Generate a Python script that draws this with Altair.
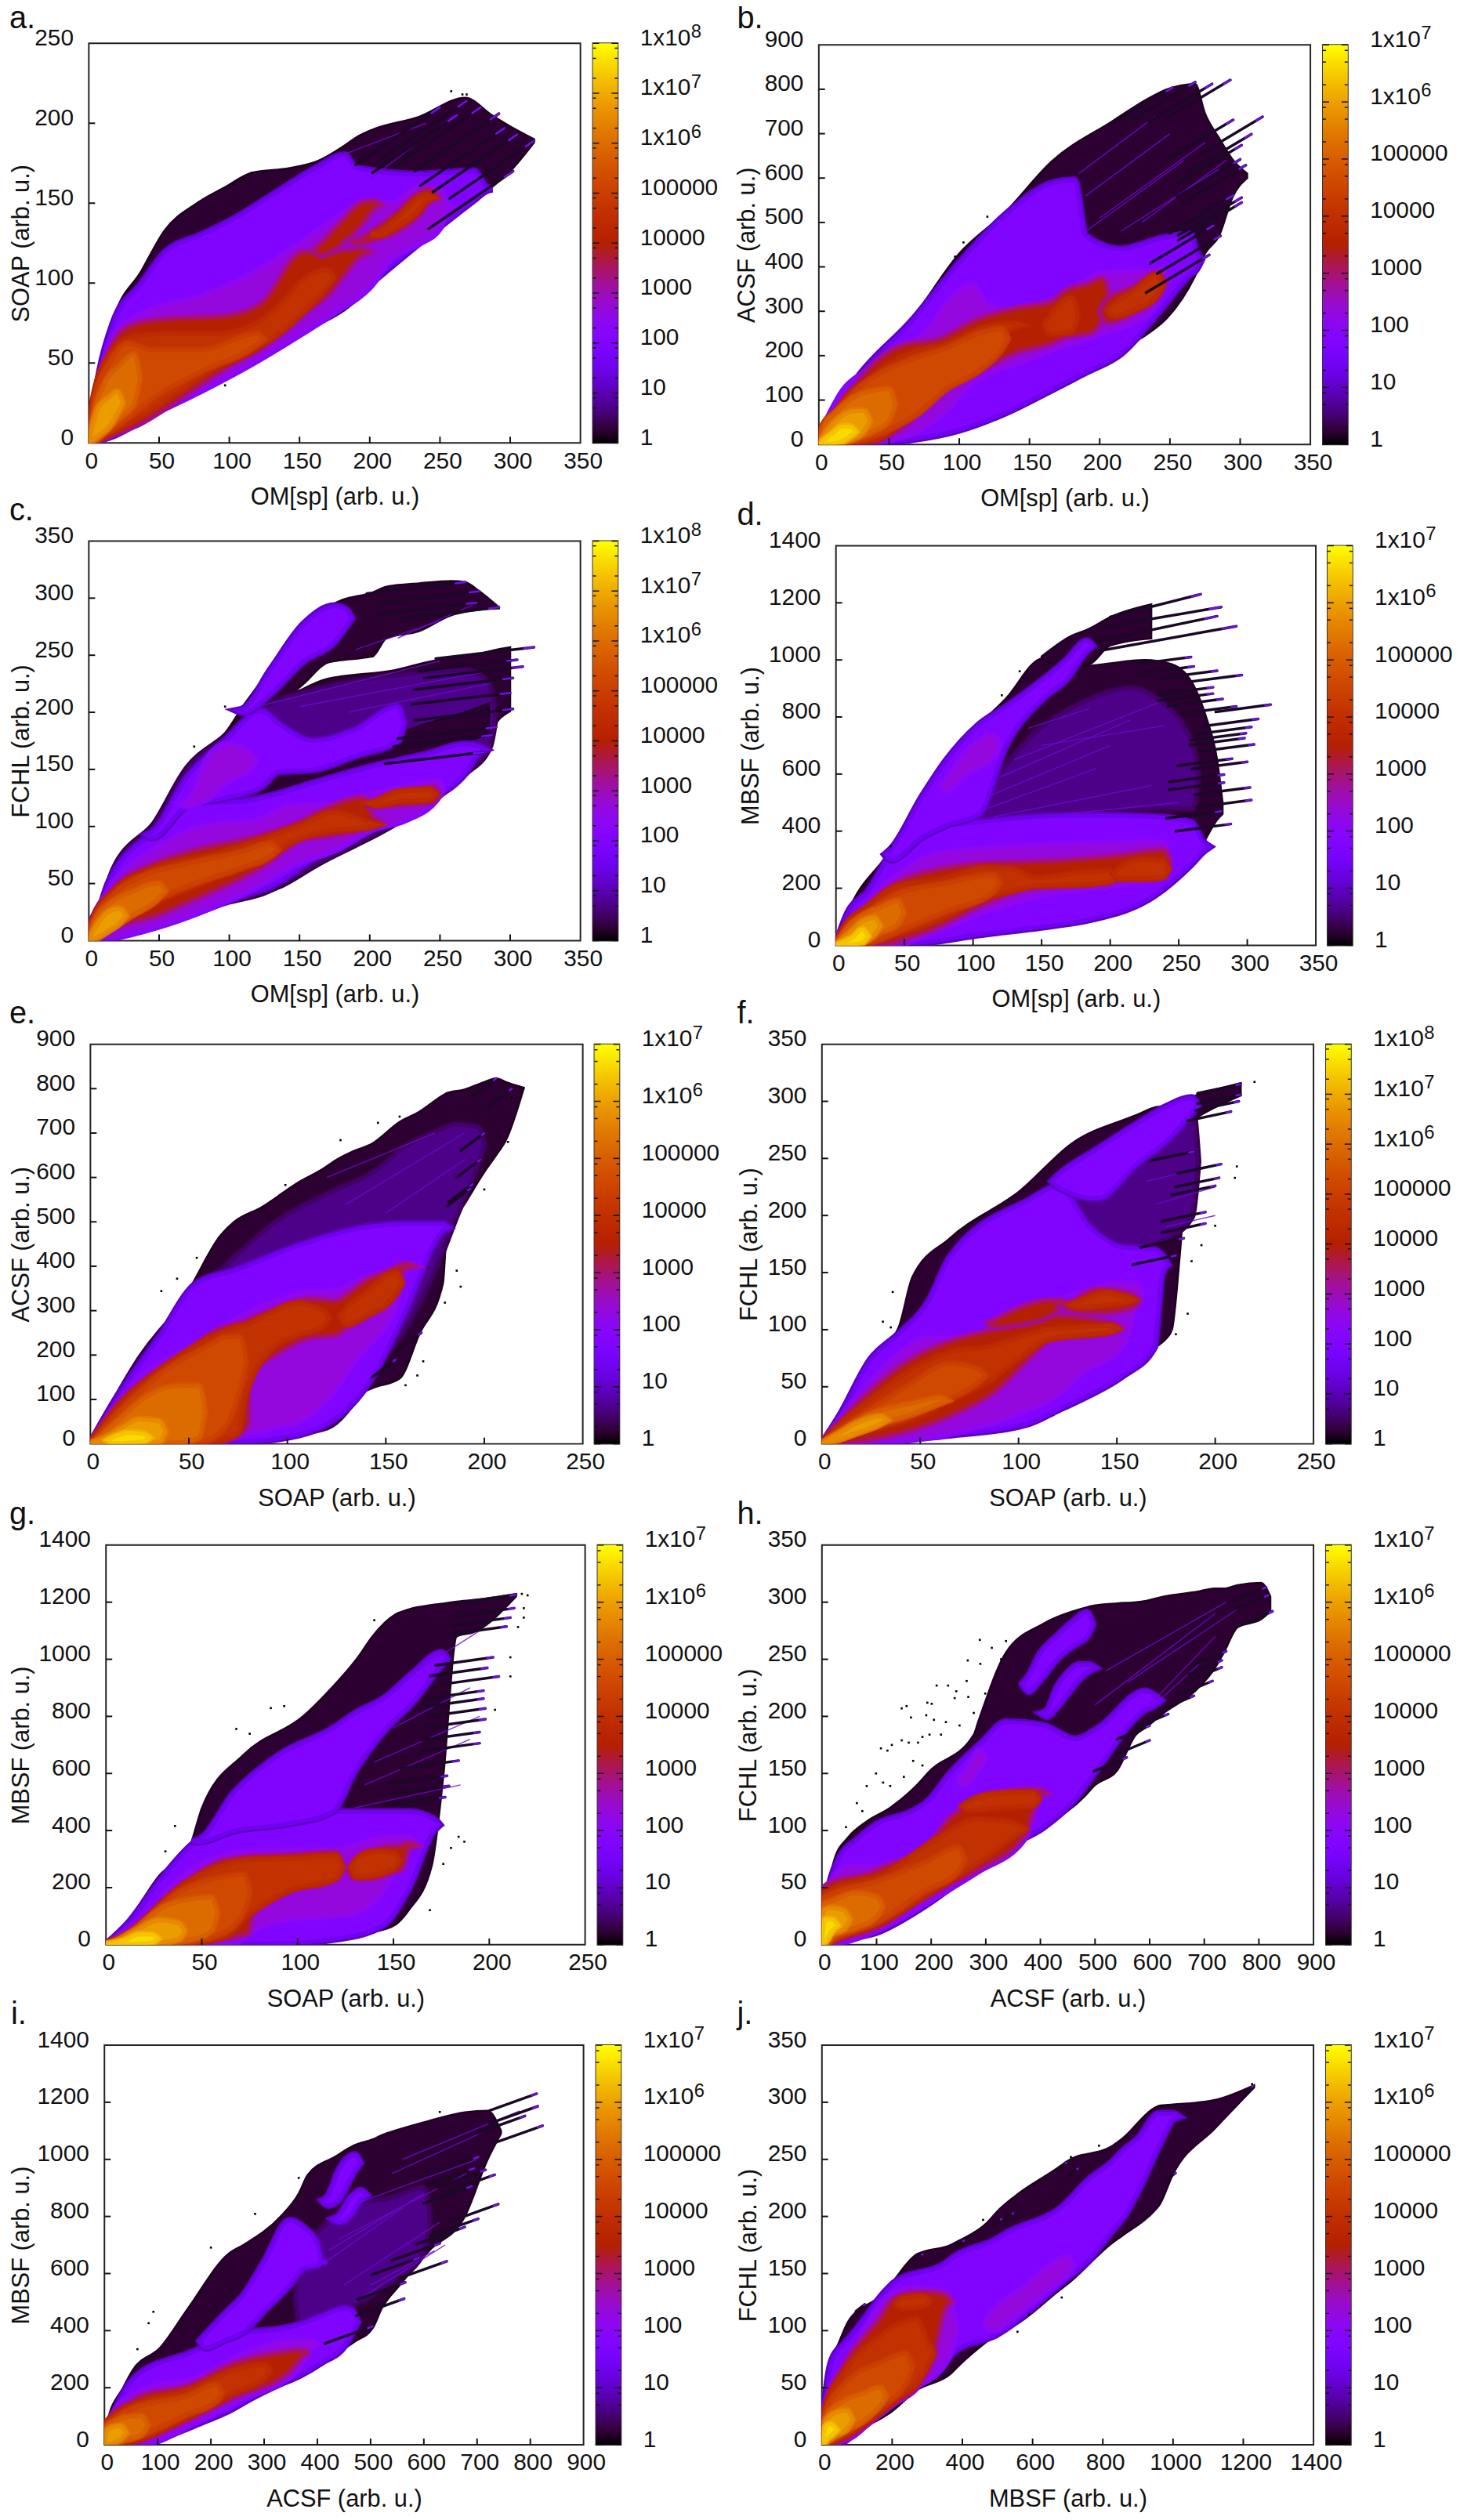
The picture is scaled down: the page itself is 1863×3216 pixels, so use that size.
import math
import altair as alt
import pandas as pd

FONT = "Liberation Sans"
TICK_FS = 30
TITLE_FS = 31
LETTER_FS = 40

LEVELS = {"K": 0.03, "I": 0.09, "V": 0.25, "P": 0.33, "R": 0.5, "O1": 0.58,
          "O2": 0.66, "O3": 0.75, "G": 0.85, "Y": 0.95}
PREVIOUS = {"K": "K", "I": "K", "V": "I", "P": "V", "R": "P", "O1": "R",
            "O2": "O1", "O3": "O2", "G": "O3", "Y": "G"}


def gnuplot_colour(t):
    r, g, b = math.sqrt(t), t ** 3, max(0.0, math.sin(2 * math.pi * t))
    return "#%02x%02x%02x" % (round(r * 255), round(g * 255), round(b * 255))


PAL_POS = [i / 32 for i in range(33)]
PALETTE = [gnuplot_colour(t) for t in PAL_POS]

# ---------------------------------------------------------------- panel a
A_REGIONS = [
 ("K", [(0,0,0),(5,1,30),(10,3,53),(18,5,79),(37,14,107),(54,25,133),(77,36,150),(97,43,160),(116,51,169),(143,64,172),(162,73,176),(182,83,186),(192,90,192),(202,99,196),(235,125,204),(268,148,216),(287,160,205),(300,170,198),(317,188,190)]),
 ("V", [(0,0,0),(8,2,45),(18,5,76),(37,14,99),(54,24,119),(80,35,130),(103,45,140),(136,63,158),(162,75,172),(182,86,180),(190,92,172),(235,125,168),(274,152,170),(283,158,160)]),
 ("P", [(0,0,0),(10,3,48),(20,7,70),(40,16,82),(80,33,92),(120,52,108),(150,68,125),(175,82,140),(200,98,152),(215,115,150),(235,125,160),(250,135,160),(255,145,150)]),
 ("R", [(1,0,8),(10,3,42),(21,7,67),(37,13,75),(54,22,77),(97,47,79),(123,60,87),(153,82,119),(169,92,119),(195,118,121)]),
 ("R", [(165,118,124),(180,125,138),(195,138,150),(203,147,151)]),
 ("R", [(192,125,127),(205,128,134),(220,133,144),(235,143,156),(243,152,158)]),
 ("O1", [(3,1,25),(15,6,55),(30,13,66),(54,26,68),(90,47,68),(120,60,75),(140,72,90),(150,80,100),(170,98,108)]),
 ("O1", [(205,130,131),(220,136,141),(235,146,153),(240,152,155)]),
 ("O2", [(4,2,25),(15,8,50),(28,16,62),(45,28,58),(80,45,58),(120,62,68)]),
 ("O3", [(5,2,22),(12,8,38),(22,16,48),(32,25,55)]),
 ("G", [(7,5,22),(14,10,28),(20,18,32)]),
]
A_TIPS = [(269,214),(279,210),(292,206),(296,197),(305,193),(317,189),(302,170),(250,210),(262,205)]
A_BACK = (60, 36)
A_DOTS = [(116,169),(124,169),(103,162),(110,165),(97,36),(258,220),(266,218),(269,218)]
A_STREAKS = [(200,165,260,205),(220,175,270,205),(180,180,240,200)]

# ---------------------------------------------------------------- panel b
B_REGIONS = [
 ("K", [(0,0,0),(11,1,80),(28,4,158),(67,12,287),(100,35,430),(133,74,524),(166,128,638),(209,205,728),(235,251,780),(248,285,800),(268,380,812),(275,430,745),(285,470,690),(295,560,640),(305,600,610)]),
 ("V", [(0,0,0),(11,1,72),(28,3,151),(67,12,280),(100,33,409),(133,72,517),(166,124,588),(182,150,595),(190,163,470),(215,205,440),(245,310,465),(265,385,473),(268,392,440)]),
 ("P", [(1,0,20),(18,2,122),(34,4,165),(51,12,208),(77,40,258),(90,72,316),(110,140,359),(120,158,316),(140,180,302),(173,220,337),(202,250,387),(232,287,392),(245,345,395)]),
 ("R", [(1,0,30),(14,1,72),(31,2,151),(61,44,223),(84,115,234),(113,165,280),(140,208,305),(166,230,320),(176,245,345),(192,251,360),(202,287,373)]),
 ("R", [(205,277,323),(225,300,355),(242,337,387)]),
 ("O1", [(2,0,35),(14,1,80),(21,2,110),(34,8,143),(47,22,175),(67,90,208),(87,150,223),(120,215,266),(140,265,273)]),
 ("O1", [(165,250,290),(180,255,330)]),
 ("O1", [(210,290,315),(225,305,345),(240,335,380)]),
 ("O2", [(3,0,40),(14,3,78),(30,12,130),(50,35,170),(70,70,195),(90,125,215),(115,170,250),(130,215,260)]),
 ("O3", [(4,1,40),(12,3,70),(25,12,105),(38,30,120),(50,55,125)]),
 ("G", [(6,1,30),(15,5,60),(25,15,75),(32,30,75)]),
 ("Y", [(10,2,25),(17,8,40),(22,18,40)]),
]
B_TIPS = [(293,821),(280,812),(252,804),(268,816),(295,731),(316,738),(308,699),(301,674),(300,642),(304,629),(295,561),(301,556),(301,545),(281,493),(286,470),(278,427)]
B_BACK = (45, 85)
B_DOTS = [(120,513),(103,455),(97,423)]
B_STREAKS = [(190,480,260,640),(200,510,275,680),(215,480,285,620),(190,560,250,700),(185,610,240,740),(230,500,290,640)]

# ---------------------------------------------------------------- panel c
C_REGIONS = [
 ("K", [(0,0,0),(8,2,31),(18,5,65),(47,13,106),(70,20,154),(97,33,182),(113,37,207),(136,46,212),(169,70,229),(218,101,237),(245,123,245),(268,145,249),(281,165,252),(287,184,254),(300,201,257)]),
 ("K", [(107,196,201),(130,205,240),(143,215,264),(153,225,279),(169,243,290),(176,245,296),(202,249,305),(212,265,310),(235,271,313),(258,285,315),(268,288,314),(278,290,306),(292,291,292)]),
 ("I", [(0,0,0),(10,3,35),(18,6,62),(47,14,102),(70,22,150),(97,34,178),(123,42,203),(169,72,222),(218,103,232),(268,147,237),(285,170,225)]),
 ("K", [(110,120,125),(130,128,142),(160,140,155),(200,155,172),(240,165,190),(268,175,200),(285,180,208)]),
 ("V", [(0,0,0),(8,2,28),(14,5,50),(47,15,96),(70,23,120),(110,40,122),(130,48,127),(160,72,138),(200,98,152),(240,122,163),(268,147,172),(278,165,170)]),
 ("V", [(45,90,95),(70,118,143),(97,125,175),(123,135,201),(135,148,190),(160,150,175),(190,162,185),(220,175,205)]),
 ("V", [(110,200,203),(130,217,238),(153,245,277),(175,262,293),(183,275,290)]),
 ("P", [(1,0,15),(18,3,51),(47,12,81),(84,28,101),(120,48,106),(143,65,118),(179,82,120),(202,98,129),(225,106,135),(248,125,140)]),
 ("P", [(70,118,122),(85,125,160),(100,140,172),(115,150,165)]),
 ("R", [(2,0,15),(18,12,45),(47,22,67),(70,34,77),(123,65,92),(153,90,105),(169,92,115),(195,98,125),(202,101,108)]),
 ("R", [(202,118,120),(225,120,128),(245,122,134)]),
 ("O1", [(2,1,14),(18,14,43),(47,33,63),(90,55,76),(123,70,88),(150,90,100),(175,97,112),(200,100,103)]),
 ("O1", [(205,119,122),(220,122,130),(242,124,132)]),
 ("O2", [(3,1,15),(18,16,40),(40,32,57),(70,48,67),(110,65,78),(130,75,85)]),
 ("O3", [(4,2,15),(15,10,32),(30,22,42),(50,38,50)]),
 ("G", [(6,3,14),(14,9,25),(22,16,28)]),
]
C_TIPS = [(317,257),(305,246),(309,240),(302,230),(300,217),(302,203),(290,187),(287,180),(281,165),(292,292),(278,306),(268,314),(276,296)]
C_BACK = (70, 10)
C_DOTS = [(97,205),(75,170),(202,249)]
C_STREAKS = [(120,205,250,245),(150,205,280,235),(185,200,285,225),(220,265,275,295),(190,255,250,280)]

# ---------------------------------------------------------------- panel d
D_REGIONS = [
 ("K", [(0,0,0),(9,2,119),(36,4,308),(56,8,442),(84,25,665),(124,55,865),(151,69,1005),(175,90,975),(195,110,985),(225,160,1000),(245,255,985),(262,297,900),(270,375,800),(278,440,650),(282,460,500)]),
 ("K", [(150,1000,1012),(170,975,1080),(185,985,1110),(200,1050,1150),(230,1075,1195)]),
 ("I", [(105,440,500),(140,450,720),(180,460,850),(215,470,900),(235,480,860),(260,480,700)]),
 ("V", [(0,0,0),(9,2,115),(23,4,186),(43,6,342),(60,9,400),(104,38,431),(158,70,453),(185,91,455),(232,175,450),(259,285,430),(268,330,360)]),
 ("V", [(40,300,335),(63,380,520),(80,420,643),(104,460,770),(124,700,835),(151,865,930),(168,932,998),(183,1032,1066)]),
 ("P", [(1,0,30),(19,1,130),(40,2,230),(73,52,320),(111,119,342),(151,175,353),(202,208,360),(239,242,364)]),
 ("P", [(80,540,580),(95,600,680),(115,660,740)]),
 ("R", [(1,0,30),(19,1,97),(33,2,180),(50,25,230),(67,52,255),(111,153,286),(141,203,290),(202,230,310),(239,253,331)]),
 ("O1", [(6,1,60),(22,8,130),(45,40,205),(75,90,230),(110,170,270),(130,195,265),(145,210,235),(180,215,255),(200,225,260)]),
 ("O1", [(207,235,270),(225,235,300),(238,240,295)]),
 ("O2", [(8,1,60),(25,12,120),(45,50,180),(80,120,215),(115,190,245)]),
 ("O3", [(10,2,65),(22,15,110),(32,45,130),(45,75,155)]),
 ("G", [(12,3,50),(20,15,85),(28,40,95)]),
 ("Y", [(13,3,30),(19,10,55)]),
]
D_TIPS = [(259,1010),(261,977),(278,962),(296,947),(275,904),(275,882),(282,863),(317,843),(292,837),(308,793),(303,765),(299,743),(298,726),(305,704),(289,654),(300,643),(283,598),(283,570),(302,553),(303,509),(288,425),(281,470)]
D_BACK = (40, 25)
D_FORK = [(200,1150,266,1230),(195,1115,281,1185),(190,1065,278,1153),(190,1030,292,1118)]
D_DOTS = [(134,960),(121,876),(40,347)]
D_STREAKS = [(105,470,190,620),(110,520,200,700),(120,590,215,790),(130,650,235,850),(115,450,230,560),(125,440,250,500),(140,760,185,830),(150,700,240,770)]

# ---------------------------------------------------------------- panel e
E_REGIONS = [
 ("K", [(0,0,0),(12,0,100),(26,1,204),(38,2,268),(50,3,347),(66,3,469),(73,4,500),(87,10,533),(106,25,590),(118,35,619),(125,47,640),(134,104,660),(143,125,676),(157,147,725),(167,247,748),(179,361,785),(181,476,790),(190,540,798),(200,612,815),(206,650,823),(211,684,815),(220,800,802)]),
 ("I", [(0,0,0),(12,0,92),(26,2,195),(50,5,320),(73,8,419),(96,20,505),(120,39,562),(148,190,625),(157,240,660),(174,383,700),(186,519,719),(197,633,712)]),
 ("V", [(0,0,0),(12,0,93),(35,2,240),(54,3,361),(73,4,390),(106,21,447),(143,150,490),(160,300,495),(179,480,495)]),
 ("P", [(0,0,0),(26,0,154),(50,2,218),(66,10,261),(87,30,311),(108,55,340),(125,125,347),(134,183,365),(155,311,395),(162,404,405)]),
 ("R", [(0,0,0),(14,0,89),(45,0,190),(61,1,247),(73,18,268),(80,46,275),(80,161,276),(92,197,296),(111,240,325),(125,247,320),(129,261,330),(141,300,369),(150,333,385),(160,397,404)]),
 ("O1", [(1,0,8),(14,0,80),(40,1,180),(60,5,235),(75,25,262),(78,100,265),(90,205,290),(105,245,315),(118,265,300)]),
 ("O1", [(130,270,305),(140,290,340),(155,340,385)]),
 ("O2", [(2,0,8),(15,0,72),(40,1,170),(58,8,215),(70,50,240),(76,130,240)]),
 ("O3", [(3,0,8),(15,1,55),(30,2,110),(45,4,130),(55,15,130)]),
 ("G", [(6,0,10),(15,1,32),(25,2,55),(35,5,50)]),
 ("Y", [(12,1,15),(20,3,25),(27,6,22)]),
]
E_TIPS = [(206,823),(214,800),(200,700),(198,640),(194,585),(193,575),(168,250),(155,190)]
E_BACK = (12, 40)
E_DOTS = [(36,344),(212,680),(188,354),(180,318),(169,186),(166,154),(160,132),(44,372),(54,419),(78,505),(99,583),(127,684),(146,723),(157,737),(200,573),(186,390),(220,802),(214,780),(208,690)]
E_STREAKS = [(130,540,190,700),(150,520,190,640),(120,600,175,700)]

# ---------------------------------------------------------------- panel f
F_REGIONS = [
 ("K", [(0,0,0),(9,1,26),(23,2,71),(39,3,102),(46,6,146),(65,10,180),(101,20,222),(127,33,263),(160,70,288),(170,85,295),(175,92,296),(178,100,297),(182,165,298),(186,250,302),(190,265,305)]),
 ("K", [(170,258,292),(190,285,305),(213,305,316)]),
 ("I", [(120,100,230),(140,150,250),(160,170,270),(175,180,280),(188,200,295)]),
 ("V", [(0,0,0),(9,1,24),(25,2,74),(39,4,96),(54,6,124),(65,8,163),(105,18,213),(120,30,225),(136,43,190),(153,60,172),(169,85,170),(173,149,165)]),
 ("V", [(120,225,235),(140,215,258),(160,245,280),(175,265,295),(188,290,303)]),
 ("P", [(0,0,0),(9,1,21),(39,3,79),(54,6,93),(75,13,93),(98,25,110),(122,45,127),(131,60,133),(153,85,141),(160,121,141)]),
 ("R", [(1,0,3),(23,4,43),(46,13,74),(65,25,89),(89,48,100),(105,75,107),(117,93,112),(148,98,105)]),
 ("R", [(88,103,108),(100,105,118),(115,112,125),(122,120,125)]),
 ("R", [(126,118,122),(140,115,135),(158,120,130)]),
 ("O1", [(3,1,6),(23,12,36),(46,22,65),(65,38,80),(85,55,85),(100,75,93),(115,92,100),(147,99,103)]),
 ("O1", [(130,120,124),(145,122,132),(155,124,128)]),
 ("O2", [(5,2,7),(25,14,30),(45,25,52),(65,40,70),(80,55,65)]),
 ("O3", [(7,3,8),(25,16,26),(45,26,35),(60,36,40)]),
 ("G", [(8,4,8),(18,10,18),(30,18,24)]),
]
F_TIPS = [(189,256),(203,245),(202,233),(200,226),(195,203),(195,193),(184,180),(180,165),(213,315),(213,306),(212,300),(208,291)]
F_BACK = (22, 8)
F_DOTS = [(36,133),(31,107),(35,102),(220,317),(211,243),(210,233),(200,191),(193,174),(188,160),(186,114),(180,96)]
F_STREAKS = [(175,190,200,200),(170,210,200,225),(165,230,190,240)]

# ---------------------------------------------------------------- panel g
G_REGIONS = [
 ("K", [(0,0,0),(12,1,88),(28,2,244),(43,3,333),(50,4,478),(72,6,667),(103,10,801),(115,21,880),(132,30,1012),(139,43,1080),(151,70,1157),(158,121,1175),(170,277,1190),(176,589,1195),(183,1080,1202),(192,1095,1208),(214,1220,1229)]),
 ("V", [(0,0,0),(12,1,77),(28,2,222),(48,3,366),(67,4,420),(91,5,440),(120,21,465),(144,66,465),(158,199,465),(171,400,440)]),
 ("V", [(48,360,366),(67,400,533),(91,420,667),(118,465,756),(130,611,810),(146,756,867),(160,850,950),(175,980,1023)]),
 ("P", [(0,0,0),(14,1,66),(43,3,255),(67,10,322),(77,50,328),(96,88,333),(120,100,333),(130,110,350),(146,199,378),(158,355,378)]),
 ("R", [(1,0,5),(12,1,43),(26,4,130),(43,8,222),(62,25,295),(74,43,305),(77,144,308),(91,188,311),(120,233,322)]),
 ("R", [(130,233,280),(139,233,325),(146,250,340),(154,266,345),(158,340,355)]),
 ("O1", [(1,0,5),(12,1,40),(40,6,205),(62,30,280),(75,110,295),(95,190,300),(120,235,310)]),
 ("O1", [(131,240,300),(140,245,325),(150,270,320)]),
 ("O2", [(3,0,8),(12,2,40),(40,10,190),(60,40,235),(72,120,245)]),
 ("O3", [(5,0,10),(14,3,45),(30,8,130),(45,20,160),(55,50,165)]),
 ("G", [(7,1,15),(15,3,45),(28,8,85),(38,20,75)]),
 ("Y", [(10,2,15),(17,4,35),(24,8,35)]),
]
G_TIPS = [(214,1226),(213,1179),(211,1146),(209,1115),(202,1007),(199,970),(205,940),(197,890),(197,862),(198,828),(198,790),(195,745),(195,706),(184,645),(178,592),(179,556),(177,517)]
G_BACK = (30, 28)
G_DOTS = [(68,756),(75,739),(86,829),(93,836),(140,1137),(217,1229),(220,1224),(218,1179),(218,1146),(215,1113),(211,1007),(211,940),(203,823),(187,361),(180,339),(176,283),(169,121),(184,378),(31,327),(36,416)]
G_STREAKS = [(130,480,185,560),(135,560,190,720),(140,640,195,800),(150,760,190,900),(160,950,195,1100)]

# ---------------------------------------------------------------- panel h
H_REGIONS = [
 ("K", [(0,0,0),(6,0,28),(23,2,75),(48,4,94),(82,11,108),(125,22,120),(184,36,145),(193,40,150),(278,64,184),(286,67,195),(337,85,256),(405,103,281),(481,130,295),(498,139,297),(541,153,299),(575,184,300),(592,190,301),(626,203,305),(685,223,309),(719,242,312),(736,256,312),(761,278,315),(804,285,317),(821,292,305)]),
 ("V", [(0,0,0),(6,0,28),(31,3,75),(65,7,92),(99,11,105),(167,28,117),(193,36,125),(235,50,150),(295,69,178),(337,85,195),(405,103,192),(464,128,180),(507,156,190),(592,206,222),(610,210,218)]),
 ("V", [(378,222,235),(400,232,255),(430,250,270),(460,262,283),(485,270,291)]),
 ("V", [(412,200,205),(430,208,225),(450,220,238),(470,232,245),(490,240,245)]),
 ("P", [(0,0,30),(6,0,42),(48,4,69),(108,15,69),(184,35,82),(201,40,89),(269,60,117),(286,65,125),(371,94,136),(396,125,136)]),
 ("P", [(260,140,150),(290,155,170)]),
 ("R", [(0,0,40),(6,0,50),(23,4,55),(82,12,61),(116,19,68),(167,36,78),(210,47,95),(227,52,106),(286,67,125),(371,97,135),(396,131,135)]),
 ("O1", [(1,0,45),(23,5,50),(116,22,62),(210,50,92),(286,72,110),(360,98,105)]),
 ("O1", [(270,118,125),(320,120,132),(385,122,133)]),
 ("O2", [(2,0,40),(23,6,45),(100,20,55),(190,48,72),(250,65,85)]),
 ("O3", [(3,0,35),(20,8,38),(60,15,45),(100,25,42)]),
 ("G", [(4,1,30),(18,10,32),(40,14,30)]),
 ("Y", [(6,3,22),(18,12,22)]),
]
H_TIPS = [(825,292),(817,306),(813,313),(740,257),(732,249),(732,243),(715,231),(681,218),(634,202),(600,192),(600,179),(558,164)]
H_BACK = (60, 12)
H_DOTS = [(146,207),(155,209),(193,212),(201,211),(163,199),(191,201),(205,197),(210,227),(231,227),(243,216),(268,217),(246,222),(265,231),(290,246),(267,249),(289,267),(311,260),(108,172),(120,170),(128,175),(146,179),(159,177),(176,177),(184,182),(197,184),(218,184),(82,139),(99,150),(112,142),(125,139),(150,147),(167,161),(184,157),(64,124),(74,117),(44,103),(227,195),(252,192),(278,203),(299,220),(328,250),(337,266)]
H_STREAKS = [(500,210,720,290),(520,240,740,300),(560,230,780,300),(600,210,720,270),(620,215,700,250)]

# ---------------------------------------------------------------- panel i
I_REGIONS = [
 ("K", [(0,0,0),(5,1,78),(36,2,203),(53,3,261),(105,23,341),(157,66,478),(235,125,672),(261,146,700),(330,210,798),(365,249,880),(382,260,946),(434,318,1010),(469,360,1049),(504,409,1070),(521,478,1085),(555,560,1106),(610,680,1135),(677,800,1165),(720,1000,1170),(745,1090,1100)]),
 ("I", [(370,400,640),(420,440,780),(470,490,850),(530,560,860),(600,680,900)]),
 ("V", [(0,0,0),(10,1,66),(36,2,181),(62,3,243),(157,61,318),(192,88,345),(230,118,370),(278,168,395),(330,215,405),(365,243,420),(408,290,450),(452,350,478),(465,390,470)]),
 ("V", [(190,340,386),(230,370,465),(261,395,523),(300,470,640),(348,560,786),(375,620,760),(400,630,700),(408,640,640)]),
 ("V", [(420,840,870),(440,860,960),(470,960,1015)]),
 ("V", [(440,780,800),(460,800,860),(482,860,890)]),
 ("P", [(0,0,40),(18,1,112),(70,3,192),(174,83,238),(261,163,318),(348,240,363),(365,266,363),(391,340,363)]),
 ("R", [(1,0,50),(10,0,89),(53,9,150),(70,20,169),(157,89,203),(244,169,283),(348,261,325),(365,300,329),(374,318,325)]),
 ("O1", [(2,0,70),(15,3,95),(70,25,150),(157,100,190),(244,185,260),(300,235,280)]),
 ("O2", [(3,0,65),(15,4,85),(60,28,130),(157,110,170),(210,155,210)]),
 ("O3", [(4,0,60),(15,6,75),(40,20,95),(70,38,100)]),
 ("G", [(5,1,50),(15,8,60),(30,20,65)]),
]
I_TIPS = [(812,1230),(814,1186),(790,1152),(823,1118),(703,1009),(716,963),(733,946),(695,969),(690,906),(740,843),(702,792),(677,763),(630,706),(591,655),(643,643),(565,569),(563,512),(504,415)]
I_BACK = (90, 60)
I_DOTS = [(92,466),(83,426),(62,335),(200,691),(283,809),(365,935),(630,1166)]
I_STREAKS = [(400,620,560,830),(420,680,600,880),(450,560,630,780),(470,500,640,700),(440,720,680,950),(480,850,700,1000),(500,560,620,680),(560,1000,780,1170),(540,950,740,1120)]

# ---------------------------------------------------------------- panel j
J_REGIONS = [
 ("K", [(0,0,0),(9,0,45),(22,1,68),(49,2,90),(75,8,108),(168,23,131),(194,28,140),(271,48,167),(366,62,175),(392,70,179),(472,91,195),(498,97,204),(551,105,218),(683,137,245),(696,140,248),(828,177,262),(855,183,268),(947,205,295),(961,210,297),(1000,237,298),(1119,277,302),(1231,313,315)]),
 ("V", [(0,0,0),(16,1,54),(29,2,74),(62,3,88),(88,10,97),(181,33,134),(207,38,142),(353,75,159),(379,82,165),(498,97,180),(524,102,185),(683,142,208),(760,162,232),(828,188,248),(860,200,258),(900,222,268),(960,262,290),(1000,285,290)]),
 ("P", [(1,0,25),(16,1,42),(75,6,74),(194,38,131),(260,50,138),(353,73,134),(370,85,120)]),
 ("P", [(480,100,115),(560,115,135),(640,135,155),(700,150,165)]),
 ("R", [(1,0,20),(9,0,31),(62,5,68),(168,28,111),(207,37,128),(277,54,133),(313,75,133),(350,120,131)]),
 ("O1", [(2,0,18),(10,1,30),(62,8,62),(168,30,95),(215,42,105),(270,55,110),(300,70,90)]),
 ("O1", [(230,120,128),(290,122,130)]),
 ("O2", [(3,0,15),(12,2,28),(62,10,52),(168,34,72),(240,55,80)]),
 ("O3", [(4,0,14),(15,3,25),(62,12,38),(120,22,45),(165,35,50)]),
 ("G", [(5,1,12),(15,4,22),(40,9,28),(70,14,30)]),
 ("Y", [(6,2,10),(15,6,17),(25,8,18)]),
]
J_TIPS = [(287,167),(405,179),(512,198),(545,203),(696,247),(729,242),(1007,238),(1227,314),(122,123)]
J_BACK = (25, 6)
J_DOTS = [(1225,316),(557,99),(590,114),(683,129),(604,227),(709,252),(789,262),(967,297),(459,197)]

PANELS = [
 dict(letter="a.", xl="OM[sp] (arb. u.)", yl="SOAP (arb. u.)", xmax=350, xstep=50, ymax=250, ystep=50, dec=8, reg=A_REGIONS, tips=A_TIPS, back=A_BACK, dots=A_DOTS, streaks=A_STREAKS, tx=-86),
 dict(letter="b.", xl="OM[sp] (arb. u.)", yl="ACSF (arb. u.)", xmax=350, xstep=50, ymax=900, ystep=100, dec=7, reg=B_REGIONS, tips=B_TIPS, back=B_BACK, dots=B_DOTS, streaks=B_STREAKS, tx=-92),
 dict(letter="c.", xl="OM[sp] (arb. u.)", yl="FCHL (arb. u.)", xmax=350, xstep=50, ymax=350, ystep=50, dec=8, reg=C_REGIONS, tips=C_TIPS, back=C_BACK, dots=C_DOTS, streaks=C_STREAKS, tx=-86),
 dict(letter="d.", xl="OM[sp] (arb. u.)", yl="MBSF (arb. u.)", xmax=350, xstep=50, ymax=1400, ystep=200, dec=7, reg=D_REGIONS, tips=D_TIPS, back=D_BACK, dots=D_DOTS, streaks=D_STREAKS, tx=-109, fork=D_FORK),
 dict(letter="e.", xl="SOAP (arb. u.)", yl="ACSF (arb. u.)", xmax=250, xstep=50, ymax=900, ystep=100, dec=7, reg=E_REGIONS, tips=E_TIPS, back=E_BACK, dots=E_DOTS, streaks=E_STREAKS, tx=-88),
 dict(letter="f.", xl="SOAP (arb. u.)", yl="FCHL (arb. u.)", xmax=250, xstep=50, ymax=350, ystep=50, dec=8, reg=F_REGIONS, tips=F_TIPS, back=F_BACK, dots=F_DOTS, streaks=F_STREAKS, tx=-93),
 dict(letter="g.", xl="SOAP (arb. u.)", yl="MBSF (arb. u.)", xmax=250, xstep=50, ymax=1400, ystep=200, dec=7, reg=G_REGIONS, tips=G_TIPS, back=G_BACK, dots=G_DOTS, streaks=G_STREAKS, tx=-108),
 dict(letter="h.", xl="ACSF (arb. u.)", yl="FCHL (arb. u.)", xmax=900, xstep=100, ymax=350, ystep=50, dec=7, reg=H_REGIONS, tips=H_TIPS, back=H_BACK, dots=H_DOTS, streaks=H_STREAKS, tx=-94),
 dict(letter="i.", xl="ACSF (arb. u.)", yl="MBSF (arb. u.)", xmax=900, xstep=100, ymax=1400, ystep=200, dec=7, reg=I_REGIONS, tips=I_TIPS, back=I_BACK, dots=I_DOTS, streaks=I_STREAKS, tx=-106),
 dict(letter="j.", xl="MBSF (arb. u.)", yl="FCHL (arb. u.)", xmax=1400, xstep=200, ymax=350, ystep=50, dec=7, reg=J_REGIONS, tips=J_TIPS, back=J_BACK, dots=J_DOTS, streaks=[], tx=-94),
]

# page layout, in pixels, of each row
ROW_TOP = [57, 691, 1332, 1970, 2607]
ROW_DRIFT = 5
ROW_RIGHT_SHIFT = [2, 6, 0, 0, 0]
ROW_LEFT_X = [110, 110, 112, 132, 130]
ROW_LEFT_W = [631, 631, 632, 615, 615]
ROW_LEFT_CB = [757, 757, 759, 763, 761]
ROW_RIGHT_X = [1047, 1069, 1051, 1051, 1051]
ROW_RIGHT_W = [631, 616, 631, 631, 631]
ROW_RIGHT_CB = [1694, 1700, 1698, 1698, 1698]
PANEL_H = 513
CB_W = 32
MARGIN = 8
TOP_OVERHANG = 15

COLOR_SCALE = alt.Scale(domain=PAL_POS, range=PALETTE, clamp=True)


def tapered(lvl, pts, xmax):
    """Contours close in a point: the density falls away at each end of a region."""
    if lvl == "K":
        return pts
    d = xmax * 0.012
    out = list(pts)
    x0, lo0, hi0 = out[0]
    if x0 > 15 * xmax / 350:
        m = (lo0 + hi0) / 2
        out.insert(0, (x0 - d, m, m))
    elif x0 > 1:
        out.insert(0, (0, 0, 0))
    x1, lo1, hi1 = out[-1]
    m = (lo1 + hi1) / 2
    out.append((x1 + d, m, m))
    return out


def panel(p, w):
    h = PANEL_H
    rows = []
    rid = 0
    for lvl, pts in p["reg"]:
        c = LEVELS[lvl]
        prev = LEVELS[PREVIOUS[lvl]]
        bands = [(0.0, 2.5)] if lvl == "K" else [(0.7 * prev + 0.3 * c, 10), (0.35 * prev + 0.65 * c, 5)]
        for hc, sw in bands:
            for (x, lo, hi) in tapered(lvl, pts, p["xmax"]):
                rows.append(dict(x=x, lo=lo, hi=hi, c=c, hc=hc, sw=sw, rid=rid))
            rid += 1
    df = pd.DataFrame(rows)
    xs = alt.Scale(domain=[0, p["xmax"]], nice=False, zero=False)
    ys = alt.Scale(domain=[0, p["ymax"]], nice=False, zero=False)
    xvals = list(range(0, p["xmax"] + 1, p["xstep"]))
    yvals = list(range(0, p["ymax"] + 1, p["ystep"]))
    xaxis = alt.Axis(values=xvals, format="d", grid=False, ticks=False, domain=False, labelFont=FONT, labelFontSize=TICK_FS,
                     labelColor="#111", labelPadding=8, labelOffset=3, labelFlush=False, labelOverlap=False,
                     title=p["xl"], titleFont=FONT, titleFontSize=TITLE_FS, titleFontWeight="normal", titleColor="#111",
                     titleX=w / 2, titleY=70, titleBaseline="middle", titleAlign="center")
    yaxis = alt.Axis(values=yvals, format="d", grid=False, ticks=False, domain=False, labelFont=FONT, labelFontSize=TICK_FS,
                     labelColor="#111", labelPadding=20, labelOffset=-7, labelFlush=False, labelOverlap=False,
                     title=p["yl"], titleFont=FONT, titleFontSize=TITLE_FS, titleFontWeight="normal", titleColor="#111",
                     titleX=p["tx"], titleY=h / 2, titleAngle=-90, titleBaseline="middle", titleAlign="center")
    X = alt.X("x:Q", scale=xs, axis=xaxis)
    Y = alt.Y("lo:Q", scale=ys, axis=yaxis)
    area = alt.Chart(df).mark_area(interpolate="monotone", clip=True).encode(
        x=X, y=Y, y2=alt.Y2("hi:Q"),
        color=alt.Color("c:Q", scale=COLOR_SCALE, legend=None),
        stroke=alt.Stroke("hc:Q", scale=COLOR_SCALE, legend=None),
        strokeWidth=alt.StrokeWidth("sw:Q", scale=None),
        detail="rid:N")

    layers = [area]
    if p["streaks"]:
        sdf = pd.DataFrame(p["streaks"], columns=["x0", "y0", "x1", "y1"])
        layers.append(alt.Chart(sdf).mark_rule(color="#6a0ad0", strokeWidth=1.4, opacity=0.85).encode(
            x=alt.X("x0:Q", scale=xs), x2="x1:Q", y=alt.Y("y0:Q", scale=ys), y2="y1:Q"))

    bx, by = p["back"]
    rays = [(tx - bx, ty - by, tx, ty) for tx, ty in p["tips"]] + list(p.get("fork", []))
    rdf = pd.DataFrame(rays, columns=["x0", "y0", "x1", "y1"])
    rdf["xt"] = rdf.x1 - 0.1 * (rdf.x1 - rdf.x0)
    rdf["yt"] = rdf.y1 - 0.1 * (rdf.y1 - rdf.y0)
    layers.append(alt.Chart(rdf).mark_rule(color="#1a0826", strokeWidth=3.5, strokeCap="round").encode(
        x=alt.X("x0:Q", scale=xs), x2="x1:Q", y=alt.Y("y0:Q", scale=ys), y2="y1:Q"))
    layers.append(alt.Chart(rdf).mark_rule(color="#7310f0", strokeWidth=2.5, strokeCap="round").encode(
        x=alt.X("xt:Q", scale=xs), x2="x1:Q", y=alt.Y("yt:Q", scale=ys), y2="y1:Q"))

    layers.append(alt.Chart(pd.DataFrame(p["dots"], columns=["x", "y"])).mark_square(size=7, color="#000", opacity=1).encode(
        x=alt.X("x:Q", scale=xs), y=alt.Y("y:Q", scale=ys)))

    xt = pd.DataFrame({"v": xvals[1:-1]})
    yt = pd.DataFrame({"v": yvals[1:-1]})
    layers.append(alt.Chart(xt).mark_rule(color="#111", strokeWidth=2).encode(
        x=alt.X("v:Q", scale=xs), y=alt.value(h), y2=alt.value(h - 8)))
    layers.append(alt.Chart(yt).mark_rule(color="#111", strokeWidth=2).encode(
        y=alt.Y("v:Q", scale=ys), x=alt.value(0), x2=alt.value(8)))

    return alt.layer(*layers).properties(
        width=w, height=h,
        title=alt.TitleParams(text=p["letter"], anchor="start", frame="group", dx=p["ldx"], dy=p["ldy"], offset=0,
                              font=FONT, fontSize=LETTER_FS, fontWeight="normal", color="#111"),
        view=alt.ViewBackground(stroke="#222", strokeWidth=2))


def colorbar(dec):
    h = PANEL_H
    top = 10 ** dec
    ys = alt.Scale(type="log", domain=[1, top], nice=False)
    stops = [alt.GradientStop(offset=o, color=c) for o, c in zip(PAL_POS, PALETTE)]
    grad = alt.LinearGradient(gradient="linear", stops=stops, x1=0, x2=0, y1=1, y2=0)
    base = pd.DataFrame({"a": [0]})
    rect = alt.Chart(base).mark_rect(fill=grad).encode(
        x=alt.value(0), x2=alt.value(CB_W), y=alt.value(0), y2=alt.value(h))
    majors = [10 ** k for k in range(dec + 1)]
    minors = [m * 10 ** k for k in range(dec) for m in (2, 5, 8)]
    axis = alt.Axis(orient="right", values=majors, grid=False, ticks=False, domain=False, title=None,
                    labelFont=FONT, labelFontSize=TICK_FS, labelColor="#111", labelPadding=28, labelOffset=-7,
                    labelFlush=False, labelOverlap=False, labelAlign="left",
                    labelExpr="datum.value >= 1000000 ? '1x10' : format(datum.value, 'd')")
    mj = pd.DataFrame({"v": majors})
    mn = pd.DataFrame({"v": minors})
    layers = [rect]
    layers.append(alt.Chart(mj).mark_rule(color="#111", strokeWidth=1.5).encode(
        y=alt.Y("v:Q", scale=ys, axis=axis), x=alt.value(0), x2=alt.value(8)))
    layers.append(alt.Chart(mj).mark_rule(color="#111", strokeWidth=1.5).encode(
        y=alt.Y("v:Q", scale=ys), x=alt.value(CB_W - 8), x2=alt.value(CB_W)))
    layers.append(alt.Chart(mn).mark_rule(color="#111", strokeWidth=1.5).encode(
        y=alt.Y("v:Q", scale=ys), x=alt.value(0), x2=alt.value(4)))
    layers.append(alt.Chart(mn).mark_rule(color="#111", strokeWidth=1.5).encode(
        y=alt.Y("v:Q", scale=ys), x=alt.value(CB_W - 4), x2=alt.value(CB_W)))
    ex = pd.DataFrame({"v": [m for m in majors if m >= 1000000]})
    ex["e"] = [str(round(math.log10(v))) for v in ex.v]
    layers.append(alt.Chart(ex).mark_text(font=FONT, fontSize=24, align="left", baseline="middle", dy=-14, color="#111").encode(
        y=alt.Y("v:Q", scale=ys), x=alt.value(CB_W + 94), text="e:N"))
    return alt.layer(*layers).resolve_scale(y="shared").properties(
        width=CB_W, height=h, view=alt.ViewBackground(stroke="#333", strokeWidth=2))


def spacer(w, h):
    return alt.Chart(pd.DataFrame({"a": [0]})).mark_point(opacity=0).encode(
        x=alt.value(0), y=alt.value(0)).properties(width=max(w, 1), height=max(h, 1))


def row(r):
    lp, rp = PANELS[2 * r], PANELS[2 * r + 1]
    lx, lw, lc = ROW_LEFT_X[r], ROW_LEFT_W[r], ROW_LEFT_CB[r]
    rx, rw, rc = ROW_RIGHT_X[r], ROW_RIGHT_W[r], ROW_RIGHT_CB[r]
    lp["ldx"] = 8 - lx + (2 if r == 4 else 0)
    rp["ldx"] = 942 - rx
    lp["ldy"] = 11 if r == 0 else 3
    rp["ldy"] = 9 if r == 0 else 3
    shift = ROW_RIGHT_SHIFT[r]
    items = [(lx, lw, panel(lp, lw), 0), (lc, CB_W, colorbar(lp["dec"]), 0),
             (rx, rw, panel(rp, rw), shift), (rc, CB_W, colorbar(rp["dec"]), shift)]
    cells = []
    cur = MARGIN
    for x, w, ch, s in items:
        cells.append(spacer(x - cur, 1))
        if s:
            # a nested column has no width of its own in a flush layout
            cells.append(alt.vconcat(spacer(1, s), ch, spacing=0, bounds="flush"))
            cur = x
        else:
            cells.append(ch)
            cur = x + w
    return alt.hconcat(*cells, spacing=0, bounds="flush")


stack = []
prev_top = MARGIN
for r in range(5):
    stack.append(spacer(1, ROW_TOP[r] - prev_top + (ROW_DRIFT if r else 0)))
    stack.append(row(r))
    prev_top = ROW_TOP[r]

chart = alt.vconcat(*stack, spacing=0, bounds="flush").properties(
    padding={"left": 0, "right": 0, "bottom": 0, "top": -TOP_OVERHANG}, background="white"
).configure_view(stroke="transparent")

chart.save("out.html", embed_options={"renderer": "svg", "actions": False})
